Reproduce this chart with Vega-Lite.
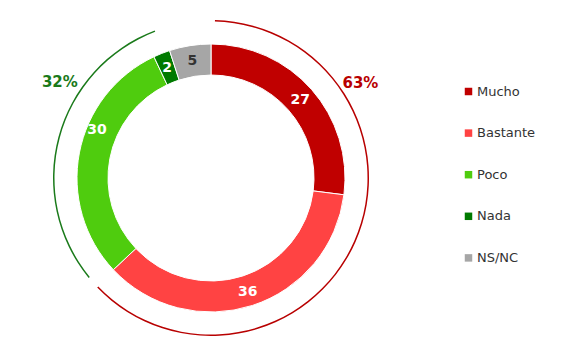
{
  "$schema": "https://vega.github.io/schema/vega-lite/v6.json",
  "width": 422,
  "height": 356,
  "autosize": "none",
  "padding": {"left": 0, "top": 0, "right": 141, "bottom": 0},
  "background": "white",
  "config": {"view": {"stroke": null}, "font": "DejaVu Sans"},
  "datasets": {
    "donut": [
      {"cat": "Mucho", "v": 27, "o": 1},
      {"cat": "Bastante", "v": 36, "o": 2},
      {"cat": "Poco", "v": 30, "o": 3},
      {"cat": "Nada", "v": 2, "o": 4},
      {"cat": "NS/NC", "v": 5, "o": 5}
    ],
    "groups": [
      {"g": "Mucho+Bastante", "s": 0.4, "e": 62.8},
      {"g": "Poco+Nada", "s": 64.1, "e": 94.2}
    ]
  },
  "layer": [
    {
      "data": {"name": "groups"},
      "mark": {"type": "arc", "radius": 158, "radius2": 156.5},
      "encoding": {
        "theta": {"field": "s", "type": "quantitative", "scale": {"domain": [0, 100]}, "stack": null},
        "theta2": {"field": "e"},
        "color": {"field": "g", "type": "nominal", "scale": {"domain": ["Mucho+Bastante", "Poco+Nada"], "range": ["#B80000", "#1A7A1A"]}, "legend": null}
      }
    },
    {
      "data": {"name": "donut"},
      "mark": {"type": "arc", "radius": 134, "radius2": 103, "stroke": "white", "strokeWidth": 1},
      "encoding": {
        "theta": {"field": "v", "type": "quantitative", "stack": true, "scale": {"domain": [0, 100]}},
        "order": {"field": "o", "type": "quantitative"},
        "color": {
          "field": "cat", "type": "nominal",
          "scale": {"domain": ["Mucho", "Bastante", "Poco", "Nada", "NS/NC"], "range": ["#C00000", "#FF4343", "#4FCC0E", "#007A00", "#A6A6A6"]},
          "legend": {
            "title": null, "orient": "none", "legendX": 462, "legendY": 85,
            "symbolType": "square", "symbolSize": 56, "symbolStrokeWidth": 0,
            "labelFontSize": 13, "labelColor": "#333333", "labelOffset": 2,
            "rowPadding": 27.6, "labelFont": "DejaVu Sans"
          }
        }
      }
    },
    {
      "data": {"name": "donut"},
      "mark": {"type": "text", "radius": 119, "fontWeight": "bold", "fontSize": 14, "align": "center", "baseline": "middle", "dy": 1},
      "encoding": {
        "theta": {"field": "v", "type": "quantitative", "stack": true, "scale": {"domain": [0, 100]}},
        "order": {"field": "o", "type": "quantitative"},
        "text": {"field": "v", "type": "quantitative"},
        "opacity": {"condition": {"test": "datum.cat === 'Poco'", "value": 0}, "value": 1},
        "color": {"condition": {"test": "datum.cat === 'NS/NC'", "value": "#333333"}, "value": "white"}
      }
    },
    {
      "data": {"name": "donut"},
      "mark": {"type": "text", "radius": 119, "fontWeight": "bold", "fontSize": 14, "align": "center", "baseline": "middle", "dy": -26, "dx": 3, "color": "white"},
      "encoding": {
        "theta": {"field": "v", "type": "quantitative", "stack": true, "scale": {"domain": [0, 100]}},
        "order": {"field": "o", "type": "quantitative"},
        "text": {"field": "v", "type": "quantitative"},
        "opacity": {"condition": {"test": "datum.cat === 'Poco'", "value": 1}, "value": 0}
      }
    },
    {
      "data": {"values": [{"t": "63%"}]},
      "mark": {"type": "text", "radius": 177, "fontWeight": "bold", "fontSize": 15, "align": "center", "baseline": "middle", "color": "#B80000"},
      "encoding": {
        "theta": {"datum": 16, "type": "quantitative", "scale": {"domain": [0, 100]}},
        "text": {"field": "t"}
      }
    },
    {
      "data": {"values": [{"t": "32%"}]},
      "mark": {"type": "text", "radius": 179, "fontWeight": "bold", "fontSize": 15, "align": "center", "baseline": "middle", "color": "#1A7A1A"},
      "encoding": {
        "theta": {"datum": 84, "type": "quantitative", "scale": {"domain": [0, 100]}},
        "text": {"field": "t"}
      }
    }
  ],
  "resolve": {"scale": {"color": "independent"}}
}
